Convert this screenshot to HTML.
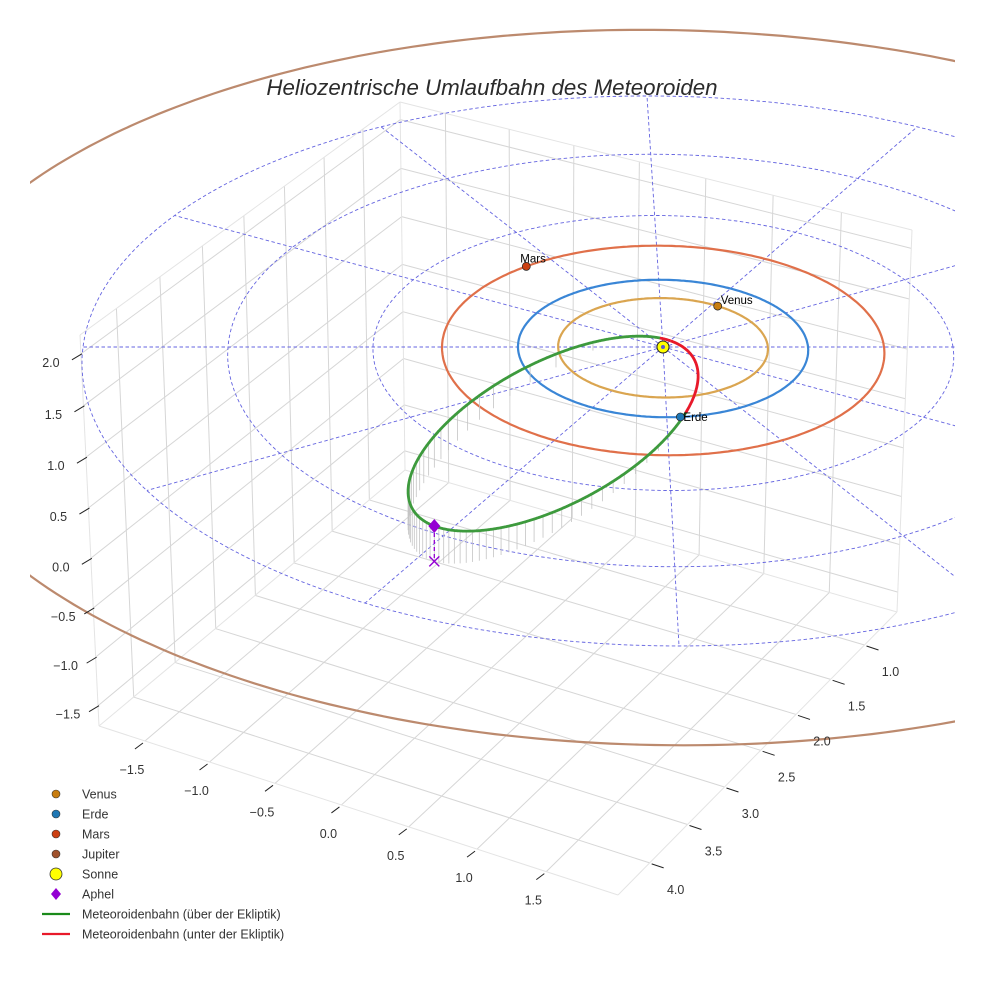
<!DOCTYPE html>
<html><head><meta charset="utf-8"><style>
html,body{margin:0;padding:0;background:#fff}
svg text{font-family:"Liberation Sans",sans-serif}
</style></head><body>
<svg id="chart" width="984" height="984" viewBox="0 0 984 984" xmlns="http://www.w3.org/2000/svg">
<defs><clipPath id="clipAx"><rect x="30" y="0" width="925" height="984"/></clipPath></defs>
<rect width="984" height="984" fill="#fff"/>
<g id="box"></g>
<g id="plot" clip-path="url(#clipAx)"></g>
<g id="ticks"></g>
<text x="492" y="95" text-anchor="middle" font-size="22.3" font-style="italic" fill="#2b2b2b">Heliozentrische Umlaufbahn des Meteoroiden</text>
<g id="legend"></g>
</svg>
<script>
// ---- data ----
const planetNames = ["Venus","Erde","Mars","Jupiter"];
const planetRadii = [0.723, 1.0, 1.524, 5.203];
const planetAngles = [56.5, -84.8, 127.8, 200];
const planetOrbitColors = ["#daa550","#3a86d6","#e0704a","#bc8a6e"];
const planetMarkerColors = ["#c87d10","#1f77b4","#cc4012","#a0522d"];
const meteorA = [1.72];
const meteorE = [0.93];
const meteorInc = [9.8];
const meteorPeri = [62];
const meteorNode = [-82];
const ringRadii = [1,2,3,4];
const spokeAngles = [0,30,60,90,120,150,180,210,240,270,300,330];
const xTicks = [-1.5,-1.0,-0.5,0.0,0.5,1.0,1.5];
const yTicks = [1.0,1.5,2.0,2.5,3.0,3.5,4.0];
const zTicks = [-1.5,-1.0,-0.5,0.0,0.5,1.0,1.5,2.0];
const legendLabels = ["Venus","Erde","Mars","Jupiter","Sonne","Aphel","Meteoroidenbahn (über der Ekliptik)","Meteoroidenbahn (unter der Ekliptik)"];

const NS="http://www.w3.org/2000/svg";
function mk(parent,tag,attrs){const el=document.createElementNS(NS,tag);for(const k in attrs)el.setAttribute(k,attrs[k]);parent.appendChild(el);return el;}

// ---- box (homographies) ----
const XMIN=-1.86,XMAX=2.01,YMIN=0.51,YMAX=4.41,ZMIN=-1.71,ZMAX=2.18;
function homog(p0,p1,p2,p3){
 const [x0,y0]=p0,[x1,y1]=p1,[x2,y2]=p2,[x3,y3]=p3;
 const dx1=x1-x2,dx2=x3-x2,dx3=x0-x1+x2-x3,dy1=y1-y2,dy2=y3-y2,dy3=y0-y1+y2-y3;
 const den=dx1*dy2-dx2*dy1;
 const g=(dx3*dy2-dx2*dy3)/den,h=(dx1*dy3-dx3*dy1)/den;
 const a=x1-x0+g*x1,b=x3-x0+h*x3,c=x0,d=y1-y0+g*y1,e=y3-y0+h*y3,f=y0;
 return (u,v)=>{const q=g*u+h*v+1;return [(a*u+b*v+c)/q,(d*u+e*v+f)/q];};
}
const Lb=[99,726],Fb=[618,895],Rb=[897,612],Bb=[405,470],Lt=[80,335],Bt=[400,102],Rt=[912,230];
const floorH=homog(Lb,Fb,Rb,Bb), leftH=homog(Lb,Bb,Bt,Lt), rightH=homog(Bb,Rb,Rt,Bt);
const U=x=>(x-XMIN)/(XMAX-XMIN), Sf=y=>(YMAX-y)/(YMAX-YMIN), W=z=>(z-ZMIN)/(ZMAX-ZMIN);
const box=document.getElementById('box');
function seg(g,a,b,col,w,name){const l=mk(g,'line',{x1:a[0],y1:a[1],x2:b[0],y2:b[1],stroke:col,'stroke-width':w});
 
 return l;}
const GC="#d6d6d6";
xTicks.forEach(x=>{seg(box,floorH(U(x),0),floorH(U(x),1),GC,1,'floor-grid-x');seg(box,rightH(U(x),0),rightH(U(x),1),GC,1,'wall-grid-x');});
yTicks.forEach(y=>{seg(box,floorH(0,Sf(y)),floorH(1,Sf(y)),GC,1,'floor-grid-y');seg(box,leftH(Sf(y),0),leftH(Sf(y),1),GC,1,'wall-grid-y');});
zTicks.forEach(z=>{seg(box,leftH(0,W(z)),leftH(1,W(z)),GC,1,'wall-grid-z');seg(box,rightH(0,W(z)),rightH(1,W(z)),GC,1,'wall-grid-z');});
[[Lb,Fb],[Fb,Rb],[Rb,Bb],[Bb,Lb],[Lb,Lt],[Lt,Bt],[Bt,Bb],[Bt,Rt],[Rt,Rb]].forEach(p=>seg(box,p[0],p[1],"#e4e4e4",1,'pane-edge'));

// ---- ticks ----
const tk=document.getElementById('ticks');
function tlabel(x,y,s,name){const t=mk(tk,'text',{x:x,y:y,'text-anchor':'middle','font-size':12.5,fill:'#333'});t.textContent=s;
 
 }
const fmt=v=>(v<0?'\u2212':'')+Math.abs(v).toFixed(1);
xTicks.forEach(x=>{const e=floorH(U(x),0);seg(tk,[e[0]-2,e[1]+2],[e[0]-10,e[1]+8],'#222',1,'x-tick');tlabel(e[0]-13,e[1]+33,fmt(x),'x-tick-label');});
yTicks.forEach(y=>{const e=floorH(1,Sf(y));seg(tk,[e[0]+2,e[1]+1],[e[0]+14,e[1]+5],'#222',1,'y-tick');tlabel(e[0]+26,e[1]+31,fmt(y),'y-tick-label');});
zTicks.forEach(z=>{const e=leftH(0,W(z));seg(tk,[e[0]+1,e[1]],[e[0]-9,e[1]+6],'#222',1,'z-tick');tlabel(e[0]-30,e[1]+13,fmt(z),'z-tick-label');});

// ---- ecliptic projection ----
const CX=663,CY=347,SX=145,SY=68.75,PP=0.0218,KK=4,ZZ=100;
function proj(X,Ya,z){const Yv=-Ya,f=1+PP*Yv;return [CX+SX*X*f+KK*Yv, CY+SY*Yv*f-ZZ*z*f];}
const rad=d=>d*Math.PI/180;
const plot=document.getElementById('plot');
function circlePath(r){let d='';for(let k=0;k<=360;k++){const t=rad(k*1);const p=proj(r*Math.cos(t),r*Math.sin(t),0);d+=(k?'L':'M')+p[0].toFixed(1)+' '+p[1].toFixed(1);}return d;}
ringRadii.forEach(r=>{const p=mk(plot,'path',{d:circlePath(r),fill:'none',stroke:'#6464e0','stroke-width':0.9,'stroke-dasharray':'3.5,2.5'});
 
 });
spokeAngles.forEach(a=>{const R=ringRadii[ringRadii.length-1];const p1=proj(0,0,0),p2=proj(R*Math.cos(rad(a)),R*Math.sin(rad(a)),0);
 const l=mk(plot,'line',{x1:p1[0],y1:p1[1],x2:p2[0],y2:p2[1],stroke:'#6464e0','stroke-width':0.9,'stroke-dasharray':'3.5,2.5'});
 
 });
planetRadii.forEach((r,i)=>{const p=mk(plot,'path',{d:circlePath(r),fill:'none',stroke:planetOrbitColors[i],'stroke-width':2.2});
 
 });

// ---- meteoroid ----
const a=meteorA[0],e=meteorE[0],inc=rad(meteorInc[0]),wp=rad(meteorPeri[0]),Om=rad(meteorNode[0]);
function posNu(nu){const r=a*(1-e*e)/(1+e*Math.cos(nu));const th=wp+nu;return [r*Math.cos(th),r*Math.sin(th),-r*Math.sin(inc)*Math.sin(th-Om)];}
function posM(M){let E=M;for(let k=0;k<30;k++)E-= (E-e*Math.sin(E)-M)/(1-e*Math.cos(E));const nu=2*Math.atan2(Math.sqrt(1+e)*Math.sin(E/2),Math.sqrt(1-e)*Math.cos(E/2));return posNu(nu);}
// stems
for(let k=0;k<64;k++){const P=posM(2*Math.PI*k/64);if(P[2]<=0.01)continue;const t=proj(P[0],P[1],P[2]),b=proj(P[0],P[1],0);
 const l=mk(plot,'line',{x1:t[0],y1:t[1],x2:b[0],y2:b[1],stroke:'#c4c4c4','stroke-width':0.8});
 
 }
// orbit line split by sign
const N=1440;let cur=null,d='';
function flush(){if(!d)return;const p=mk(plot,'path',{d:d,fill:'none',stroke:cur?'#3d9a3d':'#e8192a','stroke-width':2.8,'stroke-linejoin':'round'});
 
 d='';}
let last=null;
for(let k=0;k<=N;k++){const E=2*Math.PI*k/N;const nu=2*Math.atan2(Math.sqrt(1+e)*Math.sin(E/2),Math.sqrt(1-e)*Math.cos(E/2));const P=posNu(nu);const s=proj(P[0],P[1],P[2]);const above=P[2]>=0;
 if(cur===null)cur=above;
 if(above!==cur){d+='L'+s[0].toFixed(1)+' '+s[1].toFixed(1);flush();cur=above;d='M'+last[0].toFixed(1)+' '+last[1].toFixed(1);}
 d+=(d?'L':'M')+s[0].toFixed(1)+' '+s[1].toFixed(1);last=s;}
flush();
// aphelion
const AP=posNu(Math.PI);const apT=proj(AP[0],AP[1],AP[2]),apB=proj(AP[0],AP[1],0);
let el=mk(plot,'line',{x1:apT[0],y1:apT[1],x2:apB[0],y2:apB[1],stroke:'#9400d3','stroke-width':1.3,'stroke-dasharray':'4,3'});


el=mk(plot,'path',{d:`M${apB[0]-5} ${apB[1]-5}L${apB[0]+5} ${apB[1]+5}M${apB[0]-5} ${apB[1]+5}L${apB[0]+5} ${apB[1]-5}`,stroke:'#9400d3','stroke-width':1.4,fill:'none'});


el=mk(plot,'path',{d:`M${apT[0]} ${apT[1]-7}L${apT[0]+6} ${apT[1]}L${apT[0]} ${apT[1]+7}L${apT[0]-6} ${apT[1]}Z`,fill:'#9400d3'});


// planets
planetRadii.forEach((r,i)=>{const t=rad(planetAngles[i]);const p=proj(r*Math.cos(t),r*Math.sin(t),0);
 const c=mk(plot,'circle',{cx:p[0],cy:p[1],r:4,fill:planetMarkerColors[i],stroke:'#222','stroke-width':0.7});
 
 
 const tx=mk(plot,'text',{x:p[0]+(i==2?-6:3),y:p[1]+(i==2?-4:i==1?4:-2),'font-size':11.5,fill:'#000'});tx.textContent=planetNames[i];
 
 });
// sun
const sp=proj(0,0,0);
el=mk(plot,'circle',{cx:sp[0],cy:sp[1],r:6,fill:'#ffff00',stroke:'#222','stroke-width':1});


el=mk(plot,'circle',{cx:sp[0],cy:sp[1],r:2,fill:'#5a5acc'});



// ---- legend ----
const lg=document.getElementById('legend');
const legendMarks=[["dot","#c87d10"],["dot","#1f77b4"],["dot","#cc4012"],["dot","#a0522d"],["sun","#ffff00"],["diamond","#9400d3"],["line","#1a8a1a"],["line","#e8192a"]];
legendLabels.forEach((lab,i)=>{const y=794+i*20;const m=legendMarks[i];let s;
 if(m[0]=="dot")s=mk(lg,'circle',{cx:56,cy:y,r:4,fill:m[1],stroke:'#333','stroke-width':0.6});
 else if(m[0]=="sun")s=mk(lg,'circle',{cx:56,cy:y,r:6,fill:m[1],stroke:'#333','stroke-width':0.8});
 else if(m[0]=="diamond")s=mk(lg,'path',{d:`M56 ${y-6}L61 ${y}L56 ${y+6}L51 ${y}Z`,fill:m[1]});
 else s=mk(lg,'line',{x1:42,y1:y,x2:70,y2:y,stroke:m[1],'stroke-width':2.2});
 
 
 const t=mk(lg,'text',{x:82,y:y+4.5,'font-size':12.5,fill:'#333'});t.textContent=lab;
 
 });
</script>
</body></html>
